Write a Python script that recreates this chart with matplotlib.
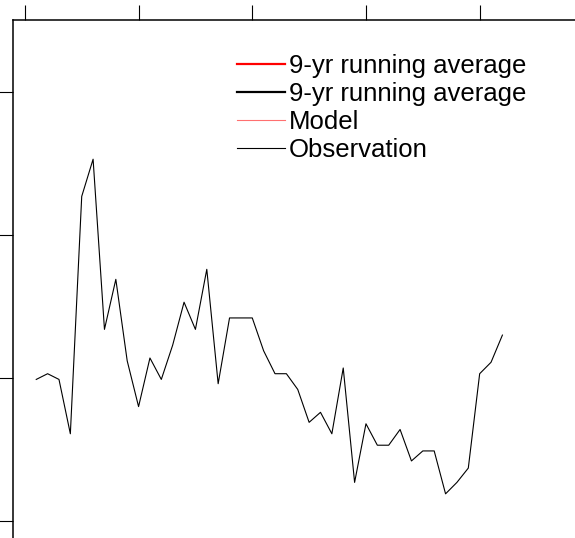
import numpy as np
import matplotlib
matplotlib.use('Agg')
import matplotlib.pyplot as plt

plt.rcParams['font.family'] = ['Liberation Sans', 'DejaVu Sans']

# yearly observed anomaly
years = np.arange(1961, 2003)
observation = [
    -0.01, 0.03, -0.01, -0.39, 1.27, 1.53, 0.34, 0.69, 0.12, -0.20,
    0.14, -0.01, 0.23, 0.53, 0.34, 0.76, -0.04, 0.42, 0.42, 0.42,
    0.19, 0.03, 0.03, -0.08, -0.31, -0.24, -0.39, 0.07, -0.73, -0.32,
    -0.47, -0.47, -0.36, -0.58, -0.51, -0.51, -0.81, -0.73, -0.63, 0.03,
    0.11, 0.30,
]
x_ticks = [1960, 1970, 1980, 1990, 2000]
y_ticks = [-1, 0, 1, 2]

W, H = 575, 538
fig = plt.figure(figsize=(W / 100, H / 100), dpi=100)

# axes run past the right and bottom of the canvas
left_px, top_px = 13.5, 20.5
px_year, px_unit = 11.37, 143.0
x_lo, x_hi = 1959, 2010
y_lo, y_hi = -1.5, 2.5
w_px = (x_hi - x_lo) * px_year
h_px = (y_hi - y_lo) * px_unit
ax = fig.add_axes([left_px / W, 1 - (top_px + h_px) / H, w_px / W, h_px / H])

ax.plot([], [], color='red', lw=1.6, label='9-yr running average')
ax.plot([], [], color='black', lw=1.6, label='9-yr running average')
ax.plot([], [], color='#ff7070', lw=0.8, label='Model')
ax.plot(years, observation, color='black', lw=0.8, label='Observation')

ax.set_xlim(x_lo, x_hi)
ax.set_ylim(y_lo, y_hi)
ax.set_xticks(x_ticks)
ax.set_yticks(y_ticks)
ax.xaxis.set_ticks_position('top')
ax.yaxis.set_ticks_position('left')
ax.tick_params(direction='out', length=11, width=0.8, color='black',
               labeltop=False, labelbottom=False, labelleft=False)
for s in ax.spines.values():
    s.set_linewidth(1.1)

ax.legend(loc='upper left', bbox_to_anchor=(0.3854, 0.941), frameon=False,
          fontsize=18.5, handlelength=1.87, handletextpad=0.15,
          labelspacing=0.15, borderpad=0, borderaxespad=0)

fig.savefig('out.png', dpi=100)
